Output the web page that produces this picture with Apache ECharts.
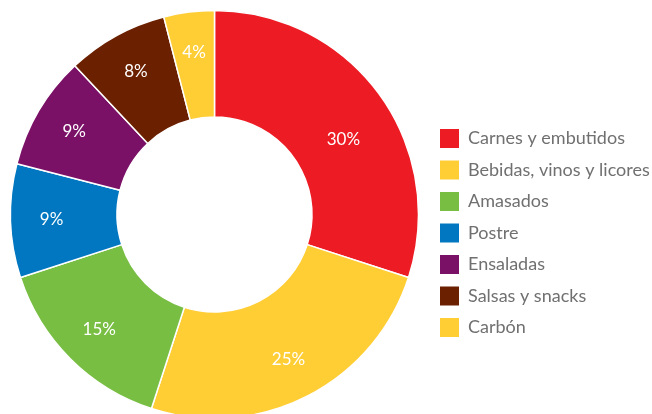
<!DOCTYPE html>
<html><head><meta charset="utf-8">
<script src="https://cdn.jsdelivr.net/npm/echarts@6/dist/echarts.min.js"></script>
<style>html,body{margin:0;padding:0;background:#fff}#c{width:652px;height:414px}</style>
</head><body><div id="c"></div>
<script>
const categories = ['Carnes y embutidos','Bebidas, vinos y licores','Amasados','Postre','Ensaladas','Salsas y snacks','Carbón'];
const values = [30, 25, 15, 9, 9, 8, 4];
const colors = ['#ED1C24','#FFCD34','#78BE43','#0077C0','#7B1167','#6B2100','#FFCD34'];

const chart = echarts.init(document.getElementById('c'), null, {renderer:'canvas'});
const pieData = categories.map((n,i)=>({name:n, value:values[i]}));
chart.setOption({
  animation:false,
  color: colors,
  legend:{
    orient:'vertical', left:440, top:129, padding:0,
    itemWidth:19, itemHeight:19, itemGap:12.5,
    icon:'rect',
    itemStyle:{borderWidth:0},
    textStyle:{color:'#707070', fontSize:18, lineHeight:19, fontFamily:'Lato', padding:[0,0,0,4]},
    data: categories
  },
  series:[{
    type:'pie',
    center:[214.5,214.5],
    radius:[97.5,204],
    startAngle:90,
    clockwise:true,
    avoidLabelOverlap:false,
    itemStyle:{borderColor:'#fff', borderWidth:1.5},
    label:{show:false},
    labelLine:{show:false},
    data: pieData
  },{
    type:'pie',
    center:[214.5,214.5],
    radius:[116,204],
    startAngle:90,
    clockwise:true,
    silent:true,
    legendHoverLink:false,
    avoidLabelOverlap:false,
    itemStyle:{color:'rgba(0,0,0,0)', borderWidth:0},
    label:{show:true, position:'inside', color:'#fff', fontSize:17, fontFamily:'Lato',
      formatter: p => p.value + '%'},
    labelLine:{show:false},
    labelLayout: p => p.dataIndex === 0 ? {dx:-3, dy:21} : {},
    data: pieData.map(d=>({name:d.name+' ', value:d.value}))
  }]
});
</script></body></html>
